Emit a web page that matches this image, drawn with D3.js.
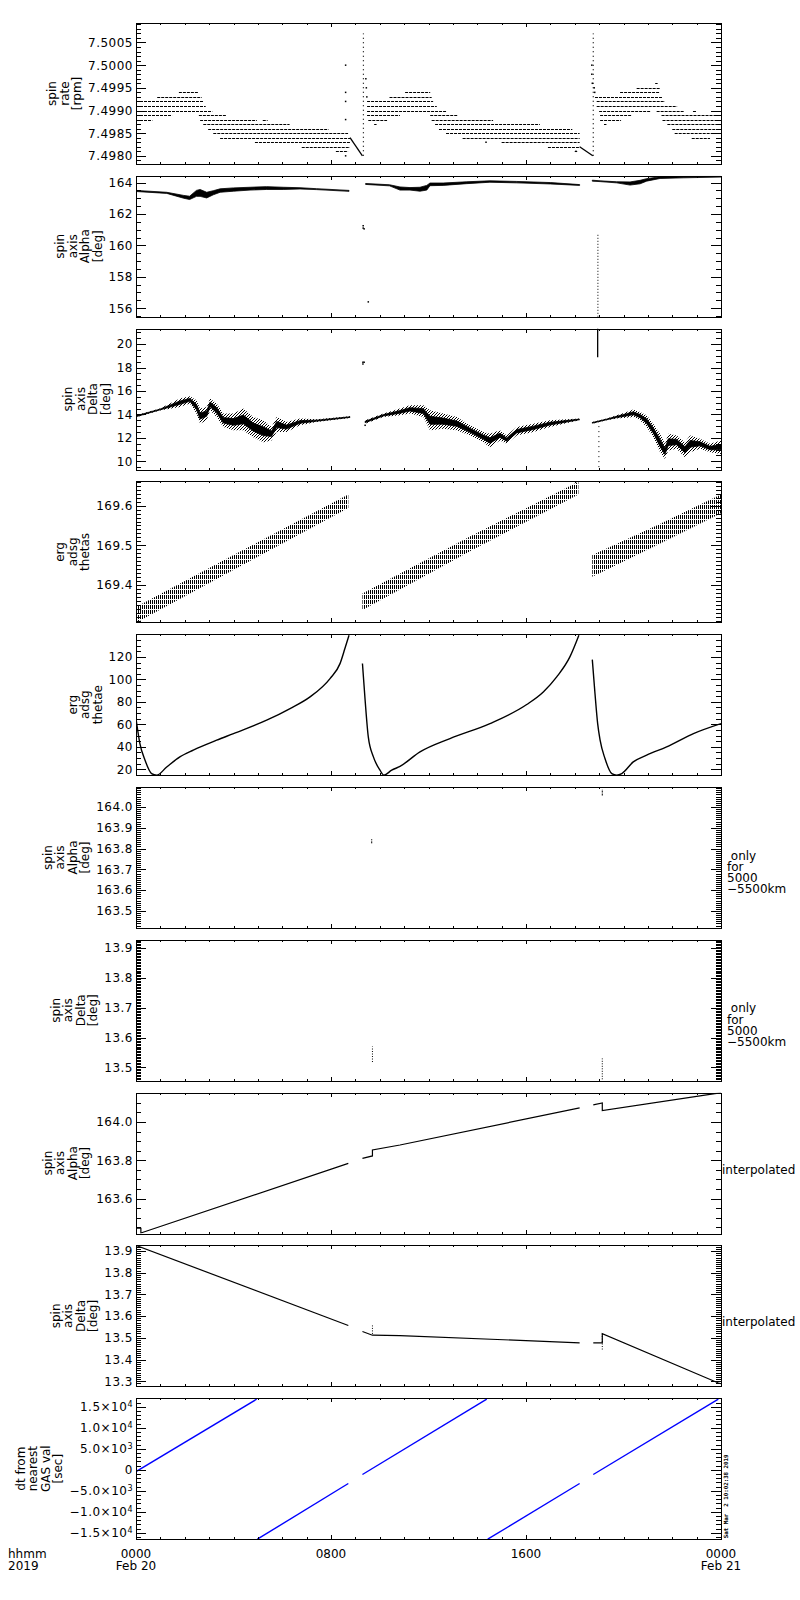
<!DOCTYPE html>
<html>
<head>
<meta charset="utf-8">
<title>spin axis</title>
<script src="https://d3js.org/d3.v7.min.js"></script>
<style>
  body { margin: 0; background: #fff; }
  svg text { font-family: "DejaVu Sans", sans-serif; font-size: 12px; fill: #000; white-space: pre; }
  .tick text { font-family: "DejaVu Sans", sans-serif; font-size: 12px; letter-spacing: 0.5px; }
  .tick line { stroke: #000; shape-rendering: crispEdges; }
  .frame { shape-rendering: crispEdges; }
</style>
</head>
<body>
<svg id="chart" width="800" height="1600"></svg>
<script>
// time axis (hours since 2019-02-20 00:00)
const hourTicks = [0, 8, 16, 24];
const hourLabels = ["0000", "0800", "1600", "0000"];
const dayLabels = ["Feb 20", "", "", "Feb 21"];

// panel 1: spin rate, quantised levels [rpm, startHour, endHour]
const spinRateLevels = [
  [7.4994, 1.76, 2.58], [7.4993, 0.87, 2.70], [7.4992, 0.00, 2.76], [7.4991, 0.00, 2.86],
  [7.4990, 0.00, 3.13], [7.4989, 0.00, 1.48], [7.4989, 2.58, 3.72], [7.4988, 0.00, 0.67],
  [7.4988, 2.63, 4.96], [7.4988, 5.20, 5.40], [7.4987, 2.76, 6.30], [7.4986, 2.96, 7.90],
  [7.4985, 3.17, 8.70], [7.4984, 3.45, 8.78], [7.4983, 4.88, 8.78], [7.4982, 6.80, 8.78],
  [7.4981, 8.20, 8.70],
  [7.4994, 11.04, 12.07], [7.4993, 10.40, 12.13], [7.4992, 9.48, 12.19], [7.4991, 9.48, 12.34],
  [7.4990, 9.48, 12.72], [7.4989, 9.48, 10.83], [7.4989, 12.07, 13.20], [7.4988, 9.53, 10.30],
  [7.4988, 12.13, 14.65], [7.4987, 9.77, 9.87], [7.4987, 12.27, 16.57], [7.4986, 12.43, 17.90],
  [7.4985, 12.72, 18.20], [7.4984, 13.40, 18.20], [7.4983, 15.00, 18.20], [7.4982, 16.90, 18.20],
  [7.4981, 18.00, 18.10],
  [7.4996, 21.30, 21.40], [7.4995, 20.54, 21.50], [7.4994, 19.86, 21.50], [7.4993, 18.83, 21.60],
  [7.4992, 18.90, 21.70], [7.4991, 18.90, 22.20], [7.4990, 19.00, 21.10], [7.4990, 21.36, 22.50],
  [7.4990, 22.85, 23.00], [7.4989, 19.04, 20.34], [7.4989, 21.56, 24.00], [7.4988, 19.04, 19.90],
  [7.4988, 21.60, 24.00], [7.4987, 19.20, 19.30], [7.4987, 21.80, 24.00], [7.4986, 22.00, 24.00],
  [7.4985, 22.10, 24.00], [7.4984, 22.80, 23.55]
];
const spinRateRamps = [
  [[8.78, 7.4984], [9.29, 7.4980]],
  [[18.20, 7.4982], [18.74, 7.4980]]
];
const spinRateColumns = [[9.33, 7.4980, 7.5007], [18.76, 7.4980, 7.5007]];
const spinRateDots = [
  [8.60, 7.5000], [8.60, 7.4994], [8.60, 7.4992], [8.60, 7.4988], [8.60, 7.4980],
  [9.43, 7.4997], [9.45, 7.4995], [9.47, 7.4993], [14.36, 7.4983], [18.05, 7.4981],
  [18.70, 7.4998], [18.72, 7.4996], [18.80, 7.4995], [18.82, 7.4994], [18.70, 7.5000]
];

// panel 2: spin axis alpha [hour, low, high]
const alphaSegments = [
  [[0.00, 163.43, 163.50], [1.26, 163.31, 163.38], [1.96, 163.00, 163.18], [2.20, 162.92, 163.13],
   [2.48, 163.12, 163.50], [2.63, 163.12, 163.56], [2.90, 163.02, 163.38], [3.17, 163.22, 163.48],
   [3.45, 163.38, 163.60], [4.00, 163.45, 163.66], [4.68, 163.52, 163.70], [5.36, 163.56, 163.74],
   [6.04, 163.56, 163.70], [6.73, 163.59, 163.67], [7.41, 163.55, 163.61], [8.74, 163.44, 163.50]],
  [[9.42, 163.88, 163.94], [10.40, 163.79, 163.86], [10.83, 163.52, 163.72], [11.24, 163.52, 163.68],
   [11.65, 163.45, 163.70], [11.93, 163.52, 163.82], [12.06, 163.80, 163.97], [12.60, 163.82, 163.97],
   [13.57, 163.93, 164.05], [14.52, 164.02, 164.11], [15.62, 163.98, 164.07], [17.00, 163.91, 164.00],
   [18.20, 163.82, 163.87]],
  [[18.72, 164.09, 164.15], [19.04, 164.06, 164.11], [19.72, 163.98, 164.05], [20.27, 163.84, 164.04],
   [20.68, 163.92, 164.14], [20.95, 164.09, 164.25], [21.50, 164.26, 164.37], [22.45, 164.30, 164.39],
   [24.00, 164.35, 164.40]]
];
const alphaDots = [[9.32, 161.25], [9.32, 161.10], [9.36, 161.05], [9.53, 156.40]];
const alphaColumns = [[18.95, 155.45, 160.75]];

// panel 3: spin axis delta [hour, low, high]
const deltaSegments = [
  [[0.00, 13.75, 13.93], [0.98, 14.33, 14.50], [1.80, 14.64, 15.36], [2.21, 14.93, 15.55],
   [2.48, 14.07, 15.21], [2.63, 13.21, 14.50], [2.90, 13.50, 14.64], [3.04, 14.36, 15.36],
   [3.31, 13.78, 14.93], [3.58, 12.92, 14.07], [4.00, 12.64, 14.07], [4.40, 12.64, 14.50],
   [4.81, 12.06, 13.78], [5.22, 11.63, 13.50], [5.56, 11.78, 12.92], [5.77, 12.49, 13.78],
   [6.18, 12.49, 13.35], [6.73, 13.07, 13.64], [7.41, 13.35, 13.58], [8.78, 13.70, 13.84]],
  [[9.40, 13.21, 13.50], [10.15, 13.78, 14.07], [10.83, 13.93, 14.50], [11.24, 14.07, 14.79],
   [11.79, 13.78, 14.79], [12.06, 12.64, 14.36], [12.60, 12.78, 14.07], [13.16, 12.64, 13.78],
   [13.70, 12.21, 13.07], [14.25, 11.63, 12.49], [14.52, 11.20, 12.35], [14.93, 11.78, 12.64],
   [15.21, 11.49, 12.21], [15.62, 12.21, 12.92], [16.30, 12.49, 13.21], [16.98, 12.92, 13.50],
   [18.19, 13.50, 13.64]],
  [[18.72, 13.21, 13.35], [19.31, 13.50, 13.64], [19.72, 13.64, 13.93], [20.13, 13.72, 14.21],
   [20.40, 13.78, 14.41], [20.68, 13.50, 14.21], [20.95, 12.92, 13.93], [21.22, 12.06, 13.21],
   [21.50, 10.77, 12.35], [21.70, 10.20, 11.49], [21.84, 10.92, 12.35], [22.18, 11.06, 12.21],
   [22.52, 10.34, 11.63], [22.73, 10.77, 12.21], [23.14, 11.06, 11.92], [23.55, 10.77, 11.49],
   [24.00, 10.63, 11.78]]
];
const deltaDots = [[9.31, 18.45], [9.36, 18.45], [9.31, 18.30], [9.40, 13.07]];
const deltaSolidColumns = [[18.94, 18.88, 21.32]];
const deltaColumns = [[18.99, 9.50, 13.20]];

// panel 4: erg adsg thetas [hour, low, high]
const thetasSegments = [
  [[0.00, 169.305, 169.345], [4.35, 169.450, 169.487], [8.71, 169.594, 169.628]],
  [[9.29, 169.337, 169.379], [13.70, 169.485, 169.522], [18.15, 169.628, 169.660]],
  [[18.72, 169.421, 169.476], [21.36, 169.500, 169.550], [24.00, 169.581, 169.628]]
];

// panel 5: erg adsg thetae [hour, value]
const thetaeSegments = [
  [[0.00, 65.1], [0.16, 42.8], [0.37, 28.0], [0.64, 16.1], [0.85, 14.7], [1.26, 22.0],
   [1.80, 31.0], [2.35, 37.0], [3.31, 45.8], [4.00, 51.7], [5.36, 63.6], [6.32, 74.0],
   [7.14, 84.4], [7.96, 100.7], [8.37, 114.0], [8.57, 127.4], [8.74, 139.3]],
  [[9.29, 114.1], [9.40, 81.4], [9.53, 48.8], [9.74, 31.0], [10.01, 19.1], [10.17, 14.7],
   [10.49, 19.1], [10.83, 22.5], [11.65, 35.4], [12.88, 47.3], [14.52, 60.6], [16.03, 77.6],
   [16.71, 88.8], [17.26, 102.2], [17.80, 120.0], [18.17, 139.3]],
  [[18.72, 117.6], [18.83, 87.4], [18.94, 60.6], [19.04, 45.8], [19.24, 29.5], [19.52, 16.1],
   [19.72, 14.7], [19.93, 16.1], [20.40, 26.5], [20.95, 32.5], [21.77, 39.9], [22.87, 51.7],
   [24.00, 60.6]]
];

// panels 6, 7: only for 5000-5500km [hour, low, high]
const alphaOnlyMarks = [[9.67, 163.825, 163.845], [19.13, 164.055, 164.085]];
const deltaOnlyMarks = [[9.70, 13.518, 13.570], [19.13, 13.460, 13.530]];

// panel 8: alpha interpolated [hour, value]
const alphaInterpSegments = [
  [[0.00, 163.445], [0.20, 163.445], [0.20, 163.420], [8.71, 163.784]],
  [[9.29, 163.810], [9.70, 163.823], [9.70, 163.854], [10.83, 163.880], [18.20, 164.074]],
  [[18.76, 164.090], [19.13, 164.100], [19.13, 164.060], [23.75, 164.149], [24.00, 164.152]]
];

// panel 9: delta interpolated [hour, value]
const deltaInterpSegments = [
  [[0.00, 13.926], [8.71, 13.557]],
  [[9.29, 13.529], [9.70, 13.512], [10.83, 13.510], [18.20, 13.477]],
  [[18.76, 13.477], [19.13, 13.477], [19.13, 13.519], [23.87, 13.293], [24.00, 13.288]]
];
const deltaInterpMarks = [[9.70, 13.518, 13.557], [19.13, 13.446, 13.519]];

// panel 10: dt from nearest GAS val [hour, sec]
const dtSegments = [
  [[0.00, -400], [4.95, 16830]],
  [[4.98, -16500], [8.71, -3240]],
  [[9.29, -1100], [14.39, 16830]],
  [[14.43, -16500], [18.20, -3240]],
  [[18.76, -1100], [23.89, 16830]]
];
const dtTicks = [-15000, -10000, -5000, 0, 5000, 10000, 15000];
const dtTickLabels = [["−1.5×10", "4"], ["−1.0×10", "4"], ["−5.0×10", "3"], ["0", ""],
                      ["5.0×10", "3"], ["1.0×10", "4"], ["1.5×10", "4"]];

const panels = [
  { title: ["spin", "rate", "[rpm]"], domain: [7.49782, 7.50093],
    major: [7.4980, 7.4985, 7.4990, 7.4995, 7.5000, 7.5005], minor: 0.0001, fmt: ".4f" },
  { title: ["spin", "axis", "Alpha", "[deg]"], domain: [155.45, 164.43],
    major: [156, 158, 160, 162, 164], minor: 0.5, fmt: "d" },
  { title: ["spin", "axis", "Delta", "[deg]"], domain: [9.29, 21.32],
    major: [10, 12, 14, 16, 18, 20], minor: 0.5, fmt: "d" },
  { title: ["erg", "adsg", "thetas"], domain: [169.306, 169.661],
    major: [169.4, 169.5, 169.6], minor: 0.01, fmt: ".1f" },
  { title: ["erg", "adsg", "thetae"], domain: [14.66, 140.2],
    major: [20, 40, 60, 80, 100, 120], minor: 5, fmt: "d" },
  { title: ["spin", "axis", "Alpha", "[deg]"], domain: [163.418, 164.096],
    major: [163.5, 163.6, 163.7, 163.8, 163.9, 164.0], minor: 0.01, fmt: ".1f",
    side: [" only", "for", "5000", "−5500km"] },
  { title: ["spin", "axis", "Delta", "[deg]"], domain: [13.455, 13.928],
    major: [13.5, 13.6, 13.7, 13.8, 13.9], minor: 0.005, fmt: ".1f",
    side: [" only", "for", "5000", "−5500km"] },
  { title: ["spin", "axis", "Alpha", "[deg]"], domain: [163.417, 164.154],
    major: [163.6, 163.8, 164.0], minor: 0.05, fmt: ".1f", side: ["interpolated"] },
  { title: ["spin", "axis", "Delta", "[deg]"], domain: [13.276, 13.926],
    major: [13.3, 13.4, 13.5, 13.6, 13.7, 13.8, 13.9], minor: 0.01, fmt: ".1f", side: ["interpolated"] },
  { title: ["dt from", "nearest", "GAS val", "[sec]"], domain: [-16500, 17070],
    major: dtTicks, minor: 1000, fmt: null }
];

const X0 = 136, X1 = 721, PH = 141, PITCH = 152.8, TOP0 = 23;
const svg = d3.select("#chart");
const x = d3.scaleLinear().domain([0, 24]).range([X0, X1]);
const hourMinor = d3.range(0, 25);

const defs = svg.append("defs");
const hatch = defs.append("pattern").attr("id", "hatch").attr("patternUnits", "userSpaceOnUse")
  .attr("width", 2).attr("height", 5);
hatch.append("rect").attr("x", 0).attr("y", 0).attr("width", 1).attr("height", 4).attr("fill", "#000");
const speck = defs.append("pattern").attr("id", "speck").attr("patternUnits", "userSpaceOnUse")
  .attr("width", 3).attr("height", 3);
speck.append("rect").attr("x", 0).attr("y", 0).attr("width", 1).attr("height", 1).attr("fill", "#000");
speck.append("rect").attr("x", 2).attr("y", 1).attr("width", 1).attr("height", 1).attr("fill", "#000");
speck.append("rect").attr("x", 1).attr("y", 2).attr("width", 1).attr("height", 1).attr("fill", "#000");

function minorValues(dom, step) {
  const a = Math.ceil(dom[0] / step - 1e-9), b = Math.floor(dom[1] / step + 1e-9);
  return d3.range(a, b + 1).map(k => +(k * step).toFixed(6));
}

panels.forEach((p, i) => {
  const top = TOP0 + i * PITCH, bottom = top + PH;
  const y = d3.scaleLinear().domain(p.domain).range([bottom, top]);
  const g = svg.append("g").attr("class", "panel");

  defs.append("clipPath").attr("id", "clip" + i)
    .append("rect").attr("x", X0).attr("y", top).attr("width", X1 - X0).attr("height", PH);
  const plot = g.append("g").attr("clip-path", `url(#clip${i})`);
  p.plot = plot; p.y = y; p.top = top;

  // y axes, ticks inward on both sides
  const minors = minorValues(p.domain, p.minor);
  const left = g.append("g").attr("transform", `translate(${X0},0)`)
    .call(d3.axisLeft(y).tickValues(p.major).tickSize(-10).tickPadding(3)
      .tickFormat(p.fmt ? d3.format(p.fmt) : () => ""));
  left.select(".domain").remove();
  if (!p.fmt) {
    left.selectAll(".tick text").each(function (d, k) {
      const lab = dtTickLabels[k];
      const t = d3.select(this).text(null);
      t.append("tspan").text(lab[0]);
      if (lab[1]) t.append("tspan").attr("dy", "-0.55em").style("font-size", "8px").text(lab[1]);
    });
  }
  g.append("g").attr("transform", `translate(${X0},0)`)
    .call(d3.axisLeft(y).tickValues(minors).tickSize(-5).tickFormat(""))
    .select(".domain").remove();
  g.append("g").attr("transform", `translate(${X1},0)`)
    .call(d3.axisRight(y).tickValues(p.major).tickSize(-10).tickFormat(""))
    .select(".domain").remove();
  g.append("g").attr("transform", `translate(${X1},0)`)
    .call(d3.axisRight(y).tickValues(minors).tickSize(-5).tickFormat(""))
    .select(".domain").remove();

  // time axes
  [[d3.axisTop, top], [d3.axisBottom, bottom]].forEach(([ax, ty]) => {
    g.append("g").attr("transform", `translate(0,${ty})`)
      .call(ax(x).tickValues(hourMinor).tickSize(-2).tickFormat(""))
      .select(".domain").remove();
    g.append("g").attr("transform", `translate(0,${ty})`)
      .call(ax(x).tickValues(hourTicks).tickSize(-4).tickFormat(""))
      .select(".domain").remove();
  });

  g.append("rect").attr("class", "frame").attr("x", X0 + 0.5).attr("y", top + 0.5).attr("width", X1 - X0)
    .attr("height", PH).attr("fill", "none").attr("stroke", "#000");

  // y title
  let minX = X1;
  left.selectAll(".tick text").each(function () {
    const bb = this.getBBox();
    minX = Math.min(minX, X0 + bb.x);
  });
  const cy = top + PH / 2, n = p.title.length;
  p.title.forEach((line, k) => {
    const cx = minX - 11 - (n - 1 - k) * 12.5;
    g.append("text").attr("transform", `translate(${cx},${cy}) rotate(-90)`)
      .attr("text-anchor", "middle").attr("dominant-baseline", "central").text(line);
  });

  if (p.side) {
    const base = p.side.length > 1 ? cy + 2 : cy + 10.5;
    const sx = p.side.length > 1 ? 727 : 722;
    p.side.forEach((line, k) => {
      g.append("text").attr("x", sx).attr("y", base + k * 11.3).text(line);
    });
  }
});

// drawing helpers
function drawLine(plot, y, rows, color, w, curve) {
  plot.append("path").datum(rows).attr("fill", "none").attr("stroke", color || "#000")
    .attr("stroke-width", w || 1.2)
    .attr("d", d3.line().curve(curve || d3.curveLinear).x(d => x(d[0])).y(d => y(d[1])));
}
function drawBand(plot, y, rows, fill, stroke) {
  plot.append("path").datum(rows).attr("fill", fill).attr("stroke", stroke || "none")
    .attr("stroke-width", 0.8)
    .attr("d", d3.area().x(d => x(d[0])).y0(d => y(d[1])).y1(d => y(d[2])));
}
function drawColumns(plot, y, rows, dash, w) {
  plot.selectAll(null).data(rows).enter().append("line")
    .attr("x1", d => x(d[0])).attr("x2", d => x(d[0]))
    .attr("y1", d => y(d[1])).attr("y2", d => y(d[2]))
    .attr("stroke", "#000").attr("stroke-width", w || 1)
    .attr("stroke-dasharray", dash);
}
function drawDots(plot, y, rows) {
  plot.selectAll(null).data(rows).enter().append("rect")
    .attr("x", d => x(d[0]) - 0.75).attr("y", d => y(d[1]) - 0.75)
    .attr("width", 1.5).attr("height", 1.5).attr("fill", "#000");
}

// panel 1
{
  const { plot, y } = panels[0];
  plot.selectAll(null).data(spinRateLevels).enter().append("line")
    .attr("x1", d => x(d[1])).attr("x2", d => x(d[2]))
    .attr("y1", d => Math.round(y(d[0])) + 0.5).attr("y2", d => Math.round(y(d[0])) + 0.5)
    .attr("stroke", "#000").attr("stroke-width", 1).attr("stroke-dasharray", "3 1");
  spinRateRamps.forEach(r => drawLine(plot, y, r, "#000", 1.3));
  drawColumns(plot, y, spinRateColumns, "1 3.5", 1.2);
  drawDots(plot, y, spinRateDots);
}
// panel 2
{
  const { plot, y } = panels[1];
  alphaSegments.forEach(s => drawBand(plot, y, s, "#000", "#000"));
  drawDots(plot, y, alphaDots);
  drawColumns(plot, y, alphaColumns, "1 2", 1);
}
// panel 3
{
  const { plot, y } = panels[2];
  deltaSegments.forEach(s => {
    drawBand(plot, y, s, "url(#speck)");
    const core = s.map(d => [d[0], d[1] + (d[2] - d[1]) * 0.3, d[2] - (d[2] - d[1]) * 0.3]);
    drawBand(plot, y, core, "#000", "#000");
  });
  drawDots(plot, y, deltaDots);
  drawColumns(plot, y, deltaSolidColumns, null, 1.3);
  drawColumns(plot, y, deltaColumns, "1 4", 1);
}
// panel 4
{
  const { plot, y } = panels[3];
  thetasSegments.forEach(s => drawBand(plot, y, s, "url(#hatch)"));
}
// panel 5
{
  const { plot, y } = panels[4];
  thetaeSegments.forEach(s => drawLine(plot, y, s, "#000", 1.4, d3.curveMonotoneX));
}
// panels 6, 7
drawColumns(panels[5].plot, panels[5].y, alphaOnlyMarks, "2 1", 1);
drawColumns(panels[6].plot, panels[6].y, deltaOnlyMarks, "1 1.5", 1);
// panel 8
alphaInterpSegments.forEach(s => drawLine(panels[7].plot, panels[7].y, s, "#000", 1.2));
// panel 9
deltaInterpSegments.forEach(s => drawLine(panels[8].plot, panels[8].y, s, "#000", 1.2));
drawColumns(panels[8].plot, panels[8].y, deltaInterpMarks, "1 1.5", 1);
// panel 10
dtSegments.forEach(s => drawLine(panels[9].plot, panels[9].y, s, "#0000ff", 1.4));

// time labels
const labY = TOP0 + 9 * PITCH + PH + 19;
hourTicks.forEach((h, k) => {
  svg.append("text").attr("x", x(h)).attr("y", labY).attr("text-anchor", "middle").text(hourLabels[k]);
  if (dayLabels[k]) svg.append("text").attr("x", x(h)).attr("y", labY + 12)
    .attr("text-anchor", "middle").text(dayLabels[k]);
});
svg.append("text").attr("x", 8).attr("y", labY).text("hhmm");
svg.append("text").attr("x", 8).attr("y", labY + 12).text("2019");

// creation stamp
svg.append("text").attr("transform", `translate(728,${TOP0 + 9 * PITCH + PH - 1}) rotate(-90)`)
  .style("font-family", "'DejaVu Sans Mono', monospace").style("font-size", "5.8px")
  .style("font-weight", "bold").text("Sat Mar  2 10:02:38 2019");
</script>
</body>
</html>
